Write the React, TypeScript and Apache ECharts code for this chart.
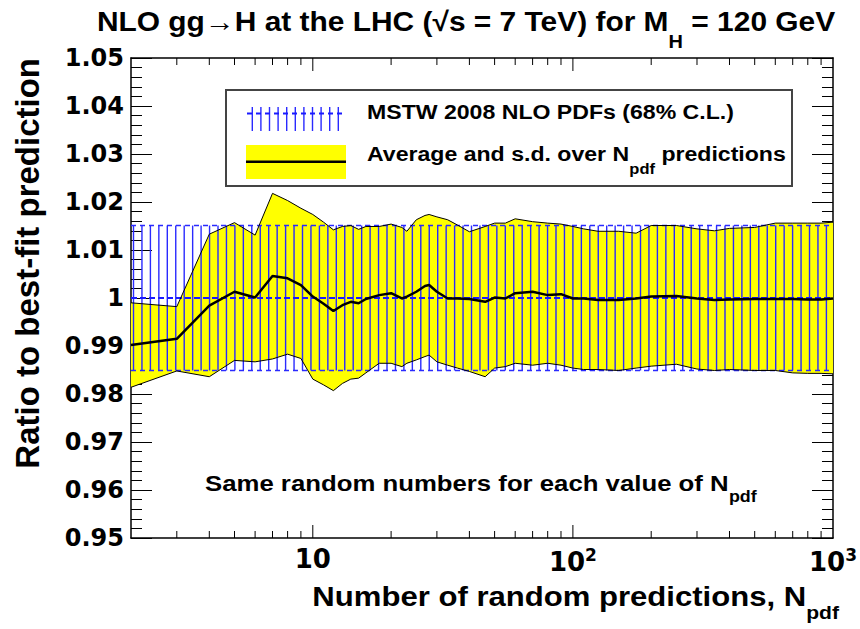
import React, { useEffect, useRef } from 'react';
import * as echarts from 'echarts';

// N_pdf values sampled along the curves
const nPdf = [2, 3, 4, 5, 6, 7, 8, 9, 10, 11, 12, 13, 14, 15, 16, 18, 20, 22, 23, 25, 27, 28, 30, 33, 36, 40, 46, 50, 55, 60, 70, 80, 90, 100, 110, 125, 150, 175, 200, 250, 300, 350, 400, 500, 600, 700, 800, 900, 1000];
// average + s.d.
const avgUpper = [0.9990, 0.9982, 1.0133, 1.0157, 1.0131, 1.0218, 1.0203, 1.0187, 1.0174, 1.0158, 1.0142, 1.0149, 1.0151, 1.0143, 1.0149, 1.0149, 1.0154, 1.0147, 1.0139, 1.0163, 1.0172, 1.0174, 1.0169, 1.0163, 1.0152, 1.0138, 1.0149, 1.0156, 1.0156, 1.0165, 1.0159, 1.0156, 1.0154, 1.0149, 1.0144, 1.0139, 1.0139, 1.0135, 1.0151, 1.0151, 1.0144, 1.0140, 1.0145, 1.0147, 1.0156, 1.0156, 1.0156, 1.0156, 1.0158];
// average - s.d.
const avgLower = [0.9814, 0.9848, 0.9836, 0.9870, 0.9867, 0.9873, 0.9883, 0.9874, 0.9831, 0.9819, 0.9807, 0.9822, 0.9831, 0.9833, 0.9844, 0.9864, 0.9864, 0.9857, 0.9864, 0.9871, 0.9878, 0.9881, 0.9867, 0.9860, 0.9854, 0.9847, 0.9836, 0.9854, 0.9857, 0.9864, 0.9860, 0.9864, 0.9860, 0.9854, 0.9851, 0.9851, 0.9849, 0.9854, 0.9858, 0.9862, 0.9852, 0.9849, 0.9851, 0.9849, 0.9849, 0.9844, 0.9843, 0.9843, 0.9842];
// average
const avgCentral = [0.9902, 0.9915, 0.9984, 1.0013, 1.0001, 1.0046, 1.0041, 1.0027, 1.0003, 0.9988, 0.9973, 0.9985, 0.9992, 0.9989, 0.9998, 1.0006, 1.0010, 0.9999, 1.0003, 1.0013, 1.0025, 1.0027, 1.0013, 0.9999, 0.9999, 0.9998, 0.9992, 1.0001, 0.9999, 1.0010, 1.0013, 1.0006, 1.0008, 0.9999, 0.9999, 0.9996, 0.9996, 0.9999, 1.0003, 1.0004, 0.9999, 0.9996, 0.9997, 0.9998, 0.9998, 0.9998, 0.9997, 0.9997, 0.9999];

// MSTW 2008 NLO 68% C.L. band
const mstwCentral = 1.0;
const mstwUpper = 1.0151;
const mstwLower = 0.9849;

const xMin = 2;
const xMax = 1000;
const yMin = 0.95;
const yMax = 1.05;
const yStep = 0.01;
const xMajorTicks = [10, 100];
const xMinorTicks = [3, 4, 5, 6, 7, 8, 9, 20, 30, 40, 50, 60, 70, 80, 90, 200, 300, 400, 500, 600, 700, 800, 900];

const FONT = '"Liberation Sans", Arial, Helvetica, sans-serif';
const WIDE = '"DejaVu Sans", "Liberation Sans", sans-serif';

function subText(x: number, y: number, main: string, sub: string, after: string, fm: number, fs: number, off: number, align: string, scaleX: number) {
  const pad = fm / 2 + off - fs / 2;
  return {
    type: 'text',
    x,
    y: y - fm / 2,
    scaleX,
    silent: true,
    z: 100,
    style: {
      text: `{m|${main}}{s|${sub}}` + (after ? `{m|${after}}` : ''),
      align,
      verticalAlign: 'top',
      fontFamily: FONT,
      fontWeight: 'bold',
      fill: '#000',
      rich: {
        m: { fontSize: fm, fontWeight: 'bold', fontFamily: FONT, verticalAlign: 'top', lineHeight: fm, height: fm },
        s: { fontSize: fs, fontWeight: 'bold', fontFamily: FONT, verticalAlign: 'top', padding: [pad, 0, 0, 0] },
      },
    },
  };
}

export default function App() {
  const ref = useRef<HTMLDivElement>(null);
  useEffect(() => {
    if (!ref.current) return;
    const chart = echarts.init(ref.current, undefined, { renderer: 'svg' });

    const legendHatch = [0, 1, 2, 3, 4, 5, 6, 7, 8, 9, 10].map((k) => ({
      type: 'line', z: 95, silent: true,
      shape: { x1: 252.3 + k * 8.6, y1: 107, x2: 252.3 + k * 8.6, y2: 131 },
      style: { stroke: '#2a2aff', lineWidth: 1.4 },
    }));

    const option: any = {
      animation: false,
      backgroundColor: '#fff',
      grid: { left: 131, top: 58, width: 708, height: 480, containLabel: false },
      xAxis: [
        {
          type: 'log', logBase: 10, min: xMin, max: xMax,
          axisLine: { show: true, lineStyle: { color: '#000', width: 1.5 } },
          axisTick: { show: false }, minorTick: { show: false },
          splitLine: { show: false }, minorSplitLine: { show: false },
          axisLabel: {
            show: true, margin: 8, color: '#000', fontFamily: WIDE, fontWeight: 'bold', fontSize: 26,
            showMinLabel: false,
            formatter: (v: number) => {
              const e = Math.log10(v);
              const r = Math.round(e);
              if (Math.abs(e - r) > 1e-6 || r < 1) return '';
              return r === 1 ? '10' : `10{s|${r}}`;
            },
            rich: { s: { fontSize: 17, fontWeight: 'bold', fontFamily: WIDE, verticalAlign: 'top', padding: [0, 0, 14, 0] } },
          },
        },
        {
          type: 'log', logBase: 10, min: xMin, max: xMax, position: 'top',
          axisLine: { show: true, lineStyle: { color: '#000', width: 1.5 } },
          axisTick: { show: false }, axisLabel: { show: false }, splitLine: { show: false },
        },
      ],
      yAxis: [
        {
          type: 'value', min: yMin, max: yMax, interval: yStep,
          axisLine: { show: true, lineStyle: { color: '#000', width: 1.5 } },
          axisTick: { show: true, inside: true, length: 21, lineStyle: { color: '#000', width: 1 } },
          minorTick: { show: true, splitNumber: 5, length: 11, lineStyle: { color: '#000', width: 1 } },
          splitLine: { show: false },
          axisLabel: {
            margin: 7, color: '#000', fontFamily: WIDE, fontWeight: 'bold', fontSize: 24,
            formatter: (v: number) => String(Math.round(v * 100) / 100),
          },
        },
        {
          type: 'value', min: yMin, max: yMax, interval: yStep, position: 'right',
          axisLine: { show: true, lineStyle: { color: '#000', width: 1.5 } },
          axisTick: { show: true, inside: true, length: 21, lineStyle: { color: '#000', width: 1 } },
          minorTick: { show: true, splitNumber: 5, length: 11, lineStyle: { color: '#000', width: 1 } },
          splitLine: { show: false }, axisLabel: { show: false },
        },
      ],
      series: [
        {
          type: 'custom', name: 'band', z: 1, silent: true,
          data: [[nPdf[0], avgCentral[0]]],
          encode: { x: 0, y: 1 },
          renderItem: (_p: any, api: any) => {
            const pts: number[][] = [];
            for (let i = 0; i < nPdf.length; i++) pts.push(api.coord([nPdf[i], avgUpper[i]]));
            for (let i = nPdf.length - 1; i >= 0; i--) pts.push(api.coord([nPdf[i], avgLower[i]]));
            return { type: 'polygon', shape: { points: pts }, style: { fill: '#ffff00', stroke: 'none' } };
          },
        },
        {
          type: 'custom', name: 'mstw', z: 2, silent: true,
          data: [[xMin, xMax, mstwLower, mstwUpper, mstwCentral]],
          encode: { x: [0, 1], y: [2, 3, 4] },
          renderItem: (_p: any, api: any) => {
            const x0 = api.value(0), x1 = api.value(1);
            const lo = api.value(2), hi = api.value(3), c = api.value(4);
            const tl = api.coord([x0, hi]);
            const br = api.coord([x1, lo]);
            const cl = api.coord([x0, c]);
            const children: any[] = [];
            for (let x = tl[0] + 2.5; x < br[0] - 0.5; x += 8.45) {
              children.push({ type: 'line', shape: { x1: x, y1: tl[1], x2: x, y2: br[1] }, style: { stroke: '#2a2aff', lineWidth: 1.4 } });
            }
            children.push({ type: 'line', shape: { x1: tl[0], y1: tl[1], x2: br[0], y2: tl[1] }, style: { stroke: '#2a2aff', lineWidth: 1.4, lineDash: [5, 4] } });
            children.push({ type: 'line', shape: { x1: tl[0], y1: br[1], x2: br[0], y2: br[1] }, style: { stroke: '#2a2aff', lineWidth: 1.4, lineDash: [5, 4] } });
            children.push({ type: 'line', shape: { x1: tl[0], y1: cl[1], x2: br[0], y2: cl[1] }, style: { stroke: '#1a1aff', lineWidth: 2.2, lineDash: [6, 3] } });
            return { type: 'group', children };
          },
        },
        {
          type: 'line', name: 'upper', z: 3, silent: true, symbol: 'none',
          data: nPdf.map((n, i) => [n, avgUpper[i]]),
          lineStyle: { color: '#000', width: 1 },
        },
        {
          type: 'line', name: 'lower', z: 3, silent: true, symbol: 'none',
          data: nPdf.map((n, i) => [n, avgLower[i]]),
          lineStyle: { color: '#000', width: 1 },
        },
        {
          type: 'line', name: 'average', z: 4, silent: true, symbol: 'none',
          data: nPdf.map((n, i) => [n, avgCentral[i]]),
          lineStyle: { color: '#000', width: 2.5 },
        },
        {
          type: 'custom', name: 'xticks', z: 5, silent: true,
          data: [...xMajorTicks.map((v) => [v, 1]), ...xMinorTicks.map((v) => [v, 0])],
          encode: { x: 0 },
          renderItem: (_p: any, api: any) => {
            const v = api.value(0);
            const major = api.value(1) === 1;
            const len = major ? 13 : 7;
            const b = api.coord([v, yMin]);
            const t = api.coord([v, yMax]);
            return {
              type: 'group',
              children: [
                { type: 'line', shape: { x1: b[0], y1: b[1], x2: b[0], y2: b[1] - len }, style: { stroke: '#000', lineWidth: 1 } },
                { type: 'line', shape: { x1: t[0], y1: t[1], x2: t[0], y2: t[1] + len }, style: { stroke: '#000', lineWidth: 1 } },
              ],
            };
          },
        },
      ],
      graphic: [
        // title
        subText(466, 21.5, 'NLO gg→H at the LHC (√s = 7 TeV) for M', 'H', ' = 120 GeV', 27, 18, 20, 'center', 1.108),
        // y axis title
        {
          type: 'text', x: 27, y: 58, rotation: Math.PI / 2, silent: true, z: 100,
          style: { text: 'Ratio to best-fit prediction', align: 'right', verticalAlign: 'middle', fontFamily: FONT, fontWeight: 'bold', fontSize: 33, fill: '#000' },
        },
        // x axis title
        subText(839, 596, 'Number of random predictions, N', 'pdf', '', 28, 19, 16, 'right', 1.11),
        // annotation
        subText(205, 483, 'Same random numbers for each value of N', 'pdf', '', 23, 16, 14, 'left', 1.12),
        // legend box
        {
          type: 'rect', z: 90, silent: true,
          shape: { x: 226, y: 90, width: 566, height: 96 },
          style: { fill: '#fff', stroke: '#444', lineWidth: 2 },
        },
        ...legendHatch,
        { type: 'line', z: 96, silent: true, shape: { x1: 247, y1: 113.5, x2: 342, y2: 113.5 }, style: { stroke: '#1a1aff', lineWidth: 2, lineDash: [5, 4] } },
        { type: 'rect', z: 95, silent: true, shape: { x: 246, y: 145, width: 100, height: 34 }, style: { fill: '#ffff00' } },
        { type: 'line', z: 96, silent: true, shape: { x1: 246, y1: 161.7, x2: 346, y2: 161.7 }, style: { stroke: '#000', lineWidth: 2.5 } },
        {
          type: 'text', x: 367, y: 111.5, scaleX: 1.1, silent: true, z: 100,
          style: { text: 'MSTW 2008 NLO PDFs (68% C.L.)', align: 'left', verticalAlign: 'middle', fontFamily: FONT, fontWeight: 'bold', fontSize: 21, fill: '#000' },
        },
        subText(367, 154, 'Average and s.d. over N', 'pdf', ' predictions', 21, 15, 15, 'left', 1.1),
      ],
    };
    chart.setOption(option);
    return () => chart.dispose();
  }, []);
  return <div ref={ref} style={{ position: 'fixed', left: 0, top: 0, width: 860, height: 629, background: '#fff' }} />;
}
